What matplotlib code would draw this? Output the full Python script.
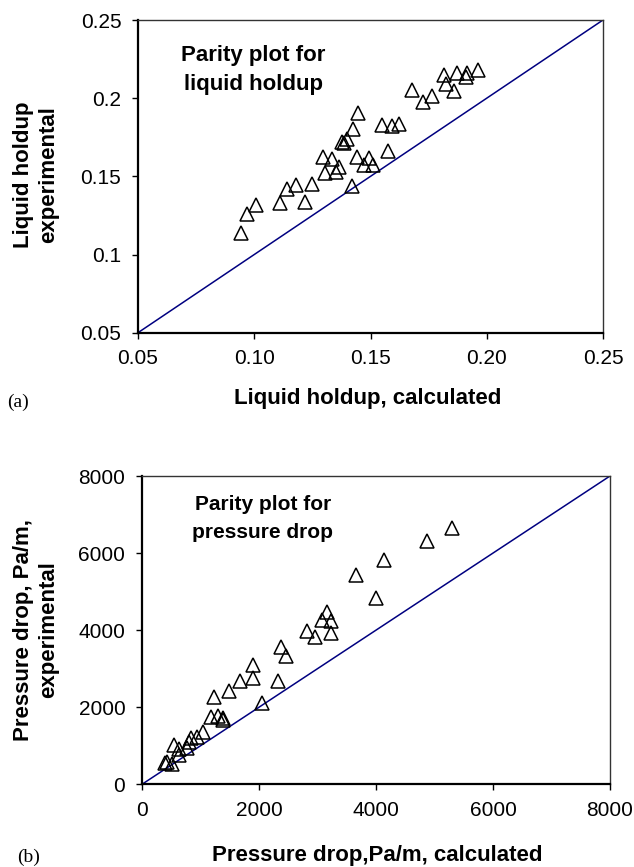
import matplotlib
matplotlib.use("Agg")
import matplotlib.pyplot as plt

# (a) liquid holdup
hold_calc = [0.0944, 0.0969, 0.1006, 0.1109, 0.1141, 0.1181, 0.1218, 0.1248, 0.1295,
             0.1304, 0.1336, 0.1350, 0.1364, 0.1378, 0.1384, 0.1398, 0.1420, 0.1424,
             0.1444, 0.1447, 0.1470, 0.1493, 0.1510, 0.1550, 0.1577, 0.1593, 0.1624,
             0.1677, 0.1727, 0.1765, 0.1816, 0.1825, 0.1859, 0.1871, 0.1911, 0.1913,
             0.1962]
hold_exp = [0.1140, 0.1259, 0.1319, 0.1332, 0.1419, 0.1442, 0.1336, 0.1451, 0.1626,
            0.1519, 0.1609, 0.1528, 0.1562, 0.1722, 0.1715, 0.1736, 0.1440, 0.1801,
            0.1622, 0.1907, 0.1573, 0.1615, 0.1570, 0.1828, 0.1662, 0.1822, 0.1833,
            0.2052, 0.1978, 0.2016, 0.2148, 0.2091, 0.2044, 0.2163, 0.2137, 0.2163,
            0.2180]

# (b) pressure drop
dp_calc = [5293, 4877, 4137, 3664, 3994, 3168, 3083, 3225, 3231, 2826, 2952, 2370,
           2462, 2319, 1892, 1892, 1681, 1481, 1231, 2051, 1180, 1305, 1379, 1379,
           1048, 935, 832, 798, 775, 547, 638, 627, 432, 400, 520]
dp_exp = [6659, 6322, 5820, 5431, 4843, 4480, 4264, 4246, 3918, 3987, 3831, 3572,
          3330, 2681, 3096, 2750, 2681, 2430, 2257, 2102, 1754, 1772, 1712, 1669,
          1365, 1235, 1194, 1107, 934, 1020, 908, 760, 586, 550, 520]

hold_ticks_x = [0.05, 0.10, 0.15, 0.20, 0.25]
hold_ticklabels_x = ["0.05", "0.10", "0.15", "0.20", "0.25"]
hold_ticks_y = [0.05, 0.1, 0.15, 0.2, 0.25]
hold_ticklabels_y = ["0.05", "0.1", "0.15", "0.2", "0.25"]
dp_ticks = [0, 2000, 4000, 6000, 8000]

plt.rcParams['font.family'] = ['Liberation Sans', 'DejaVu Sans']

W, H = 634, 867
fig = plt.figure(figsize=(W / 100, H / 100), dpi=100)


def box(l, t, r, b):
    return [l / W, 1 - b / H, (r - l) / W, (b - t) / H]


ax1 = fig.add_axes(box(138, 20, 603, 332.7))
ax2 = fig.add_axes(box(142, 476, 610, 784.3))

line_col = '#000080'
tick_fs = 15
lab_fs = 16


def style(ax):
    for s in ['left', 'bottom']:
        ax.spines[s].set_linewidth(1.6)
        ax.spines[s].set_color('black')
    for s in ['top', 'right']:
        ax.spines[s].set_linewidth(1.0)
        ax.spines[s].set_color('#333333')
    ax.tick_params(direction='out', length=4, width=1, labelsize=tick_fs, pad=8)


# Top plot
ax1.plot([0.05, 0.25], [0.05, 0.25], color=line_col, lw=1.1, zorder=2)
ax1.plot(hold_calc, hold_exp, linestyle='none', marker='^', ms=9.5, mfc='none',
         mec='black', mew=1.1, zorder=3)
ax1.set_xlim(0.05, 0.25)
ax1.set_ylim(0.05, 0.25)
ax1.set_xticks(hold_ticks_x)
ax1.set_xticklabels(hold_ticklabels_x)
ax1.set_yticks(hold_ticks_y)
ax1.set_yticklabels(hold_ticklabels_y)
style(ax1)
fig.text(253 / W, 1 - 70 / H, "Parity plot for\nliquid holdup", ha='center', va='center',
         fontsize=16, fontweight='bold', linespacing=1.45)
fig.text(368 / W, 1 - 399 / H, "Liquid holdup, calculated", ha='center', va='center',
         fontsize=lab_fs, fontweight='bold')
fig.text(36 / W, 1 - 175 / H, "Liquid holdup\nexperimental", ha='center', va='center',
         rotation=90, fontsize=lab_fs, fontweight='bold', multialignment='center',
         linespacing=1.22)
fig.text(7 / W, 1 - 402 / H, "(a)", ha='left', va='center', fontsize=14,
         family=['Liberation Serif', 'DejaVu Serif'])

# Bottom plot
ax2.plot([0, 8000], [0, 8000], color=line_col, lw=1.1, zorder=2)
ax2.plot(dp_calc, dp_exp, linestyle='none', marker='^', ms=9.5, mfc='none',
         mec='black', mew=1.1, zorder=3)
ax2.set_xlim(0, 8000)
ax2.set_ylim(0, 8000)
ax2.set_xticks(dp_ticks)
ax2.set_yticks(dp_ticks)
style(ax2)
fig.text(263 / W, 1 - 518 / H, "Parity plot for\npressure drop", ha='center', va='center',
         fontsize=15, fontweight='bold', linespacing=1.6)
fig.text(377 / W, 1 - 855 / H, "Pressure drop,Pa/m, calculated", ha='center', va='center',
         fontsize=lab_fs, fontweight='bold')
fig.text(36 / W, 1 - 630 / H, "Pressure drop, Pa/m,\nexperimental", ha='center', va='center',
         rotation=90, fontsize=lab_fs, fontweight='bold', multialignment='center',
         linespacing=1.22)
fig.text(17 / W, 1 - 857 / H, "(b)", ha='left', va='center', fontsize=14,
         family=['Liberation Serif', 'DejaVu Serif'])

fig.savefig("out.png", dpi=100)
